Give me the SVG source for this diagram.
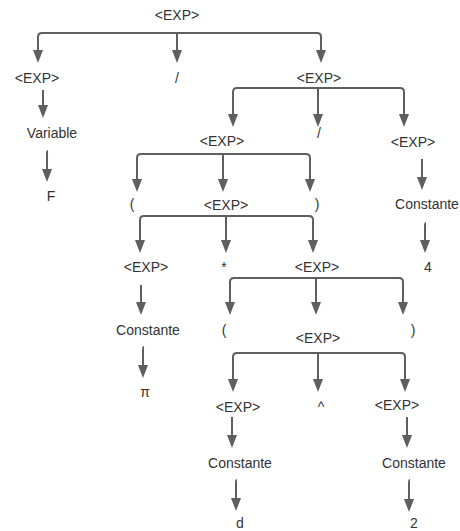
<svg xmlns="http://www.w3.org/2000/svg" width="460" height="531" viewBox="0 0 460 531">
<style>
  .t { font-family: "Liberation Sans", Arial, sans-serif; font-size: 14px; fill: #333333; text-anchor: middle; }
  .c { fill: none; stroke: #5f5f5f; stroke-width: 2; marker-end: url(#ah); }
</style>
<defs>
  <marker id="ah" markerUnits="userSpaceOnUse" viewBox="0 0 13 10" markerWidth="13" markerHeight="10" refX="3" refY="5" orient="auto">
    <path d="M0,0 L13,5 L0,10 z" fill="#5f5f5f"/>
  </marker>
</defs>
<rect width="460" height="531" fill="#ffffff"/>
<g id="connectors">
  <path class="c" d="M177,33 H42 Q38,33 38,37 V53"/>
  <path class="c" d="M177,33 V53"/>
  <path class="c" d="M177,33 H317 Q321,33 321,37 V53"/>
  <path class="c" d="M43,90 V108"/>
  <path class="c" d="M48,151 Q47,151 47,154 V172"/>
  <path class="c" d="M318,88 H237 Q233,88 233,92 V117"/>
  <path class="c" d="M318,88 V117"/>
  <path class="c" d="M318,88 H400 Q404,88 404,92 V117"/>
  <path class="c" d="M422,159 V180"/>
  <path class="c" d="M426,223 Q425,223 425,226 V243"/>
  <path class="c" d="M223,154 H141 Q137,154 137,158 V182"/>
  <path class="c" d="M223,154 V182"/>
  <path class="c" d="M223,154 H306 Q310,154 310,158 V182"/>
  <path class="c" d="M226,216 H144 Q140,216 140,220 V243"/>
  <path class="c" d="M226,216 V243"/>
  <path class="c" d="M226,216 H309 Q313,216 313,220 V243"/>
  <path class="c" d="M141,285 V305"/>
  <path class="c" d="M144,347 Q143,347 143,350 V368"/>
  <path class="c" d="M316,278 H234 Q230,278 230,282 V305"/>
  <path class="c" d="M316,278 V305"/>
  <path class="c" d="M316,278 H399 Q403,278 403,282 V305"/>
  <path class="c" d="M318,353 H237 Q233,353 233,357 V382"/>
  <path class="c" d="M318,353 V382"/>
  <path class="c" d="M318,353 H401 Q405,353 405,357 V382"/>
  <path class="c" d="M232,417 V438"/>
  <path class="c" d="M407,417 V438"/>
  <path class="c" d="M237,480 Q236,480 236,483 V501"/>
  <path class="c" d="M410,480 Q409,480 409,483 V502"/>
</g>
<g id="n_root"><text class="t" x="177" y="20">&lt;EXP&gt;</text></g>
<g id="n_exp_l1a"><text class="t" x="37" y="83">&lt;EXP&gt;</text></g>
<g id="n_div1"><text class="t" x="177" y="83">/</text></g>
<g id="n_exp_l1b"><text class="t" x="319" y="83">&lt;EXP&gt;</text></g>
<g id="n_variable"><text class="t" x="52" y="138">Variable</text></g>
<g id="n_F"><text class="t" x="51" y="201">F</text></g>
<g id="n_exp_l2a"><text class="t" x="222" y="146">&lt;EXP&gt;</text></g>
<g id="n_div2"><text class="t" x="319" y="138">/</text></g>
<g id="n_exp_l2b"><text class="t" x="413" y="147">&lt;EXP&gt;</text></g>
<g id="n_lp1"><text class="t" x="132" y="209">(</text></g>
<g id="n_exp_l3"><text class="t" x="226" y="210">&lt;EXP&gt;</text></g>
<g id="n_rp1"><text class="t" x="317" y="209">)</text></g>
<g id="n_const4"><text class="t" x="427" y="209">Constante</text></g>
<g id="n_exp_l4a"><text class="t" x="146" y="272">&lt;EXP&gt;</text></g>
<g id="n_mul"><text class="t" x="224" y="272">*</text></g>
<g id="n_exp_l4b"><text class="t" x="317" y="272">&lt;EXP&gt;</text></g>
<g id="n_4"><text class="t" x="428" y="272">4</text></g>
<g id="n_constpi"><text class="t" x="148" y="335">Constante</text></g>
<g id="n_lp2"><text class="t" x="224" y="335">(</text></g>
<g id="n_exp_l5"><text class="t" x="318" y="343">&lt;EXP&gt;</text></g>
<g id="n_rp2"><text class="t" x="413" y="335">)</text></g>
<g id="n_pi"><text class="t" x="145" y="397">π</text></g>
<g id="n_exp_l6a"><text class="t" x="238" y="412">&lt;EXP&gt;</text></g>
<g id="n_pow"><text class="t" x="321" y="412">^</text></g>
<g id="n_exp_l6b"><text class="t" x="397" y="410">&lt;EXP&gt;</text></g>
<g id="n_constd"><text class="t" x="240" y="468">Constante</text></g>
<g id="n_const2"><text class="t" x="414" y="468">Constante</text></g>
<g id="n_d"><text class="t" x="240" y="528">d</text></g>
<g id="n_2"><text class="t" x="414" y="528">2</text></g>
</svg>
